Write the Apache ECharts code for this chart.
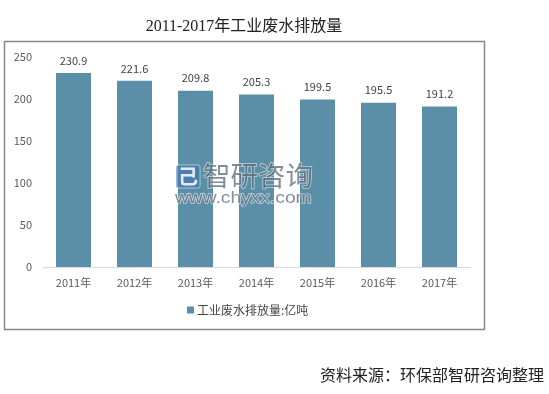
<!DOCTYPE html>
<html>
<head>
<meta charset="utf-8">
<style>
  html, body { margin: 0; padding: 0; background: #fff; }
  #chart { width: 549px; height: 394px; }
</style>
<script src="https://cdn.jsdelivr.net/npm/echarts@6/dist/echarts.min.js"></script>
</head>
<body>
<div id="chart"></div>
<script>
const years = ['2011年', '2012年', '2013年', '2014年', '2015年', '2016年', '2017年']
const discharge = [230.9, 221.6, 209.8, 205.3, 199.5, 195.5, 191.2]
const seriesName = '工业废水排放量:亿吨'
const titleText = '2011-2017年工业废水排放量'
const sourceText = '资料来源\uFF1A环保部智研咨询整理'

const cjk = '"Noto Sans CJK SC", "Liberation Sans", sans-serif'
const chart = echarts.init(document.getElementById('chart'), null, { renderer: 'canvas' })

chart.setOption({
  animation: false,
  backgroundColor: '#fff',
  title: {
    text: titleText,
    left: 239,
    top: 14,
    textAlign: 'center',
    textStyle: { fontSize: 16, fontWeight: 'normal', color: '#222', fontFamily: '"Liberation Serif", "Noto Sans CJK SC", serif' },
  },
  legend: {
    data: [seriesName],
    left: 187,
    top: 304,
    padding: 0,
    icon: 'rect',
    itemWidth: 7,
    itemHeight: 7,
    itemGap: 3,
    textStyle: { fontSize: 12, color: '#444', fontFamily: cjk, padding: [0, 0, 0, -2] },
  },
  grid: { left: 43, right: 79, top: 57, bottom: 127 },
  xAxis: {
    type: 'category',
    data: years,
    axisLine: { lineStyle: { color: '#d9d9d9', width: 1 } },
    axisTick: { show: false },
    axisLabel: { color: '#595959', fontSize: 11, margin: 10, fontFamily: cjk },
  },
  yAxis: {
    type: 'value',
    min: 0,
    max: 250,
    interval: 50,
    axisLine: { show: false },
    axisTick: { show: false },
    splitLine: { show: false },
    axisLabel: { color: '#595959', fontSize: 11, margin: 11, fontFamily: cjk },
  },
  series: [
    {
      name: seriesName,
      type: 'bar',
      data: discharge,
      barWidth: 35,
      itemStyle: { color: '#5b8fa8' },
      label: {
        show: true,
        position: 'top',
        distance: 7,
        color: '#404040',
        fontSize: 11,
        fontFamily: cjk,
        formatter: (p) => p.value.toFixed(1),
      },
    },
  ],
  graphic: [
    // chart frame
    {
      type: 'rect',
      z: -1,
      shape: { x: 4.5, y: 41.5, width: 480, height: 288 },
      style: { fill: '#fff', stroke: '#868686', lineWidth: 1.5 },
    },
    // watermark, each child needs its own z to sit over the bars
    { type: 'rect', z: 100, shape: { x: 176, y: 165, width: 24, height: 23, r: 2 }, style: { fill: 'rgba(70,120,180,0.7)', stroke: 'rgba(255,255,255,0.5)', lineWidth: 1 } },
    { type: 'text', z: 101, x: 188, y: 176.5, style: { text: '己', fill: 'rgba(255,255,255,0.85)', fontSize: 20, fontWeight: 'bold', align: 'center', verticalAlign: 'middle', fontFamily: cjk } },
    { type: 'text', z: 101, x: 203, y: 176, style: { text: '智研咨询', fill: 'rgba(65,80,95,0.65)', stroke: 'rgba(255,255,255,0.6)', lineWidth: 1.5, fontSize: 27.5, align: 'left', verticalAlign: 'middle', fontFamily: cjk } },
    { type: 'text', z: 101, x: 175, y: 199, scaleX: 1.2, style: { text: 'www.chyxx.com', fill: 'rgba(65,80,95,0.65)', stroke: 'rgba(255,255,255,0.6)', lineWidth: 1.5, fontSize: 16, align: 'left', verticalAlign: 'middle', fontFamily: '"Liberation Sans", sans-serif' } },
    // source note
    {
      type: 'text',
      x: 320,
      y: 375,
      style: { text: sourceText, fill: '#222', fontSize: 16, align: 'left', verticalAlign: 'middle', fontFamily: cjk },
    },
  ],
})
</script>
</body>
</html>
